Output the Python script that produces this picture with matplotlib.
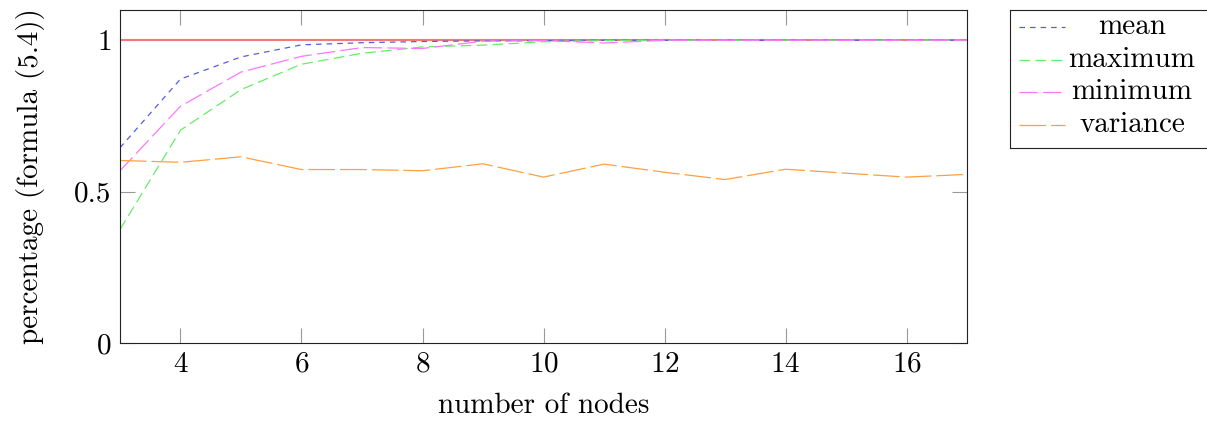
import matplotlib
matplotlib.use("Agg")
import matplotlib.pyplot as plt

plt.rcParams['font.family'] = 'serif'
plt.rcParams['font.serif'] = ['cmr10', 'DejaVu Serif']
plt.rcParams['mathtext.fontset'] = 'cm'
plt.rcParams['axes.formatter.use_mathtext'] = True
plt.rcParams['lines.scale_dashes'] = False
plt.rcParams['font.size'] = 21

# Data
nodes = [3, 4, 5, 6, 7, 8, 9, 10, 11, 12, 13, 14, 15, 16, 17]
mean = [0.645, 0.872, 0.945, 0.985, 0.992, 0.996, 0.998, 0.999, 1.0, 1.0, 1.0, 1.0, 1.0, 1.0, 1.0]
maximum = [0.375, 0.703, 0.837, 0.921, 0.957, 0.978, 0.984, 0.995, 0.999, 1.0, 1.0, 1.0, 1.0, 1.0, 1.0]
minimum = [0.569, 0.782, 0.895, 0.947, 0.976, 0.973, 0.997, 0.999, 0.991, 1.0, 1.0, 1.0, 1.0, 1.0, 1.0]
variance = [0.603, 0.597, 0.615, 0.573, 0.573, 0.569, 0.592, 0.548, 0.591, 0.564, 0.540, 0.574, 0.561, 0.548, 0.557]
reference = [1.0] * len(nodes)

labels = ['mean', 'maximum', 'minimum', 'variance']
colors = ['#5a5ae6', '#66ee66', '#ff77ff', '#ffa040']
dashes = [(4.0, 3.6), (7.7, 3.8), (13.2, 3.8), (19.2, 3.6)]
series = [mean, maximum, minimum, variance]

fig = plt.figure(figsize=(12.07, 4.21), dpi=100)
ax = fig.add_axes([0.0994, 0.1853, 0.7018, 0.7909])

ax.plot(nodes, reference, color='#f47878', lw=1.5, solid_capstyle='butt')
for ys, lab, col, ds in zip(series, labels, colors, dashes):
    ax.plot(nodes, ys, color=col, lw=0.9, dashes=ds, label=lab)

ax.set_xlim(3, 17)
ax.set_ylim(0, 1.1)
ax.set_xticks([4, 6, 8, 10, 12, 14, 16])
ax.set_yticks([0, 0.5, 1])
ax.set_yticklabels(['0', '0.5', '1'])
ax.tick_params(direction='in', length=11, width=0.8, color='#999999',
               top=True, right=True, labelsize=21, pad=6)
for s in ax.spines.values():
    s.set_linewidth(0.8)
    s.set_color('#222222')
ax.set_xlabel('number of nodes', fontsize=21, labelpad=11)
ax.set_ylabel('percentage (formula (5.4))', fontsize=21, labelpad=21)

# legend box drawn by hand so the entries are centered like pgfplots
leg = fig.add_axes([1010 / 1207, 1 - 148 / 421, 200 / 1207, 138 / 421])
leg.set_xlim(0, 200)
leg.set_ylim(138, 0)
leg.set_xticks([])
leg.set_yticks([])
for s in leg.spines.values():
    s.set_linewidth(0.8)
    s.set_color('#222222')
rows = [17, 50, 82, 115]
for row, lab, col, ds in zip(rows, labels, colors, dashes):
    leg.plot([9, 55], [row, row], color=col, lw=0.9, dashes=ds)
    leg.text(122, row, lab, ha='center', va='center', fontsize=21)

fig.savefig('out.png', dpi=100)
